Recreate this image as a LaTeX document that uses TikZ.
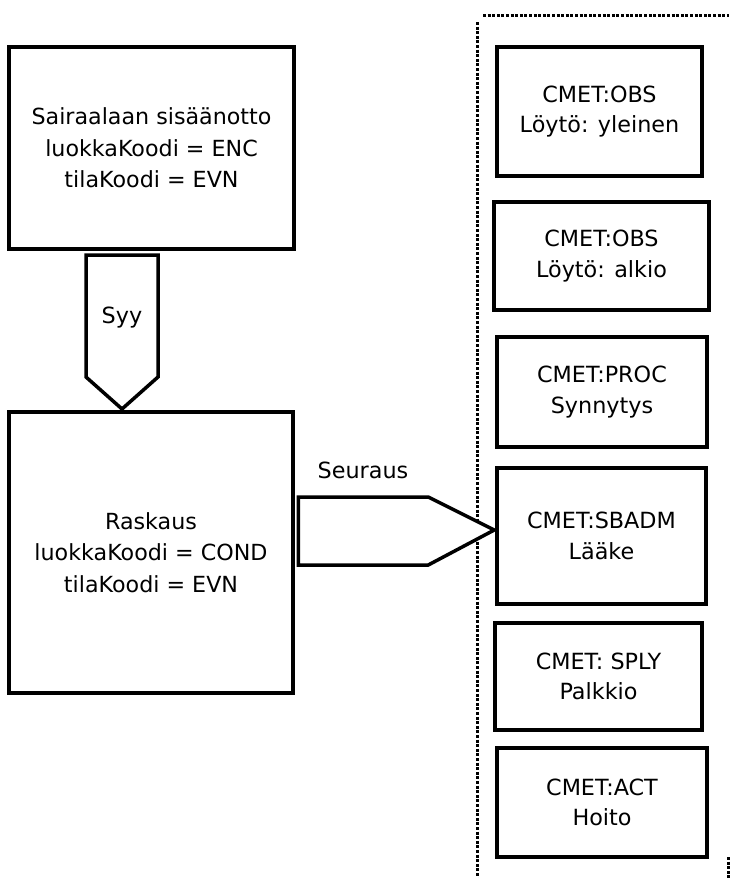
\documentclass[tikz,border=0pt]{standalone}
\usepackage{fontspec}
\setmainfont{DejaVu Sans}
\usetikzlibrary{calc}
\begin{document}
\begin{tikzpicture}[x=1pt,y=-1pt,
  box/.style={draw, line width=3.5pt, inner sep=0pt, align=center,
    font=\fontsize{22.2}{31.5}\selectfont, text=black},
  sbox/.style={box, font=\fontsize{22.3}{30.5}\selectfont},
  blockarrow/.style={draw, line width=3.5pt, line join=miter, fill=white},
  lbl/.style={font=\fontsize{22.3}{26}\selectfont, inner sep=0pt},
  group/.style={line width=3pt, dash pattern=on 3pt off 1.6pt}]
\useasboundingbox (0,0) rectangle (729,878);

% main classes
\node[box, minimum width=285pt, minimum height=202pt] (adm) at (151.5,148)
  {Sairaalaan sisäänotto\\luokkaKoodi = ENC\\tilaKoodi = EVN};
\node[box, minimum width=284pt, minimum height=281pt] (rask) at (151,552.5)
  {Raskaus\\luokkaKoodi = COND\\tilaKoodi = EVN};

% CMET group
\node[sbox, minimum width=205pt, minimum height=129pt] (obs1) at (599.5,111.5)
  {CMET:OBS\\Löytö: yleinen};
\node[sbox, minimum width=215pt, minimum height=108pt] (obs2) at (601.5,256)
  {CMET:OBS\\Löytö: alkio};
\node[sbox, minimum width=210pt, minimum height=110pt] (proc) at (602,392)
  {CMET:PROC\\Synnytys};
\node[sbox, minimum width=209pt, minimum height=136pt] (sbadm) at (601.5,536)
  {CMET:SBADM\\Lääke};
\node[sbox, minimum width=207pt, minimum height=107pt] (sply) at (598.5,676.5)
  {CMET: SPLY\\Palkkio};
\node[sbox, minimum width=210pt, minimum height=109pt] (act) at (602,802.5)
  {CMET:ACT\\Hoito};

% dotted group outline
\draw[group] (477,22) -- (477,878);
\draw[group] (483,15) -- (729,15);
\draw[group] (728,857) -- (728,878);

% Syy block arrow
\coordinate (syyTip) at (122,409);
\draw[blockarrow] ($(syyTip)+(-36,-154)$) -- ($(syyTip)+(-36,-32)$) -- (syyTip)
  -- ($(syyTip)+(36,-32)$) -- ($(syyTip)+(36,-154)$) -- cycle;
\node[lbl] (syy) at (122,318) {Syy};

% Seuraus block arrow
\coordinate (seuTip) at ($(sbadm.west)+(-1,-6)$);
\draw[blockarrow] ($(seuTip)+(-196,-33)$) -- ($(seuTip)+(-66,-33)$) -- (seuTip)
  -- ($(seuTip)+(-66,35)$) -- ($(seuTip)+(-196,35)$) -- cycle;
\node[lbl] (seu) at (363,470) {Seuraus};
\end{tikzpicture}
\end{document}
